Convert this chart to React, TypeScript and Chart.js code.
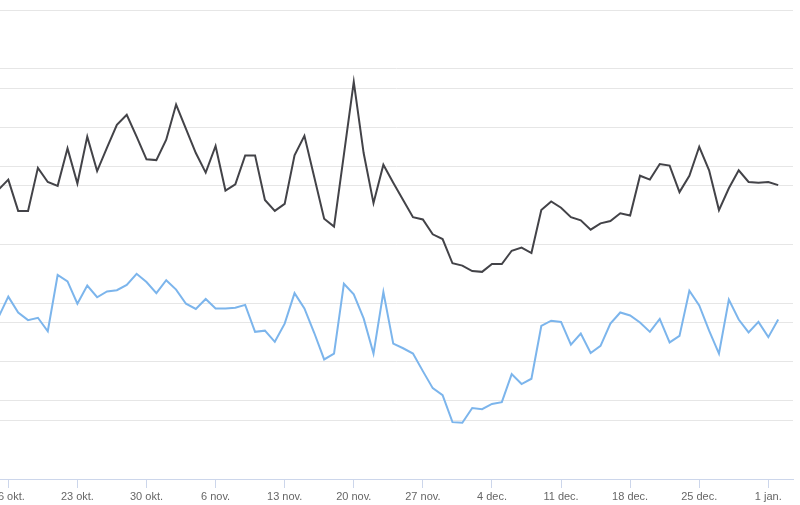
import React, { useEffect, useRef } from "react";
import { Chart, registerables } from "chart.js";

Chart.register(...registerables);

// Day index 0 = 15 okt. (daily points up to 2 jan.)
const firstDay = 0;
const lastDay = 79;

const tickDays = [1, 8, 15, 22, 29, 36, 43, 50, 57, 64, 71, 78];
const tickLabels = [
  "16 okt.", "23 okt.", "30 okt.", "6 nov.", "13 nov.", "20 nov.",
  "27 nov.", "4 dec.", "11 dec.", "18 dec.", "25 dec.", "1 jan.",
];

const darkSeries = [
  37.0, 38.3, 34.3, 34.3, 39.8, 38.0, 37.5, 42.3, 37.8, 43.8,
  39.4, 42.4, 45.3, 46.6, 43.8, 40.9, 40.8, 43.4, 47.9, 44.8,
  41.7, 39.2, 42.6, 36.9, 37.7, 41.4, 41.4, 35.7, 34.3, 35.2,
  41.4, 43.9, 38.6, 33.3, 32.3, 41.5, 50.8, 41.7, 35.3, 40.2,
  37.9, 35.7, 33.5, 33.2, 31.3, 30.7, 27.6, 27.3, 26.6, 26.5,
  27.5, 27.5, 29.2, 29.6, 28.9, 34.4, 35.5, 34.7, 33.5, 33.1,
  31.9, 32.7, 33.0, 34.0, 33.7, 38.8, 38.3, 40.3, 40.1, 36.7,
  38.8, 42.5, 39.5, 34.4, 37.2, 39.5, 38.0, 37.9, 38.0, 37.6,
];

const blueSeries = [
  27.6, 31.1, 28.4, 27.1, 27.5, 25.2, 34.8, 33.7, 29.9, 33.0,
  31.0, 32.0, 32.2, 33.1, 35.0, 33.6, 31.7, 33.9, 32.3, 29.9,
  29.0, 30.7, 29.1, 29.1, 29.2, 29.7, 25.1, 25.3, 23.4, 26.5,
  31.7, 29.1, 24.9, 20.4, 21.4, 33.3, 31.5, 27.4, 21.4, 31.9,
  23.1, 22.3, 21.4, 18.4, 15.5, 14.3, 9.7, 9.6, 12.1, 11.9,
  12.8, 13.1, 17.9, 16.2, 17.1, 26.1, 27.0, 26.8, 22.9, 24.8,
  21.5, 22.7, 26.5, 28.4, 27.9, 26.7, 25.1, 27.3, 23.3, 24.4,
  32.1, 29.6, 25.3, 21.4, 30.6, 27.2, 25.0, 26.8, 24.2, 27.2,
];

const days = Array.from({ length: lastDay - firstDay + 1 }, (_, i) => firstDay + i);

export default function App() {
  const ref = useRef<HTMLCanvasElement | null>(null);

  useEffect(() => {
    if (!ref.current) return;
    const chart = new Chart(ref.current, {
      type: "line",
      data: {
        datasets: [
          {
            label: "A",
            data: days.map((d, i) => ({ x: d, y: darkSeries[i] })),
            borderColor: "#434348",
            borderWidth: 2,
            pointRadius: 0,
            tension: 0,
            yAxisID: "yA",
          },
          {
            label: "B",
            data: days.map((d, i) => ({ x: d, y: blueSeries[i] })),
            borderColor: "#7cb5ec",
            borderWidth: 2,
            pointRadius: 0,
            tension: 0,
            yAxisID: "yB",
          },
        ],
      },
      options: {
        animation: false,
        responsive: false,
        maintainAspectRatio: false,
        layout: { padding: { top: 10, left: 0, right: 7, bottom: 0 } },
        plugins: { legend: { display: false }, tooltip: { enabled: false } },
        scales: {
          x: {
            type: "linear",
            min: 0.159,
            max: 80.5,
            afterBuildTicks: (scale: any) => {
              scale.ticks = tickDays.map((v) => ({ value: v }));
            },
            afterFit: (scale: any) => {
              scale.height = 26;
              scale.paddingLeft = 0;
              scale.paddingRight = 0;
            },
            grid: {
              drawOnChartArea: false,
              drawTicks: true,
              tickLength: 9,
              color: "#ccd6eb",
            },
            border: { display: true, color: "#ccd6eb", width: 1 },
            ticks: {
              autoSkip: false,
              maxRotation: 0,
              padding: 2,
              color: "#666666",
              font: { family: "'Liberation Sans', Arial, sans-serif", size: 11 },
              callback: (value: any) => {
                const idx = tickDays.indexOf(Number(value));
                return idx >= 0 ? tickLabels[idx] : "";
              },
            },
          },
          yA: {
            type: "linear",
            position: "left",
            min: 0,
            max: 60,
            ticks: { display: false, stepSize: 10 },
            grid: { color: "#e6e6e6", drawTicks: false },
            border: { display: false },
            afterFit: (scale: any) => {
              scale.width = 0;
            },
          },
          yB: {
            type: "linear",
            position: "right",
            min: 0,
            max: 80,
            ticks: { display: false, stepSize: 10 },
            grid: { color: "#e6e6e6", drawTicks: false },
            border: { display: false },
            afterFit: (scale: any) => {
              scale.width = 0;
            },
          },
        },
      },
    });
    return () => chart.destroy();
  }, []);

  return (
    <div style={{ position: "fixed", left: 0, top: 0, width: 800, height: 505, background: "#ffffff" }}>
      <canvas ref={ref} width={800} height={505} />
    </div>
  );
}
